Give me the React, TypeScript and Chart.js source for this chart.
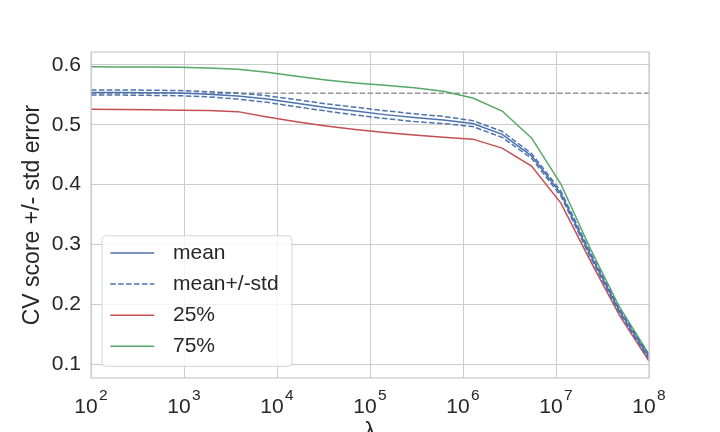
import React, { useEffect, useRef } from "react";
import { Chart, registerables } from "chart.js";

Chart.register(...registerables);

// lambda grid (log spaced)
const lambdas = [
  100, 207, 428, 886, 1833, 3793, 7848, 16238, 33598, 69519, 143845, 297635,
  615848, 1274275, 2636651, 5455595, 11288379, 23357215, 48329302, 100000000,
];

const meanScore = [
  0.554, 0.554, 0.5535, 0.553, 0.551, 0.548, 0.543, 0.536, 0.529, 0.523,
  0.517, 0.512, 0.508, 0.502, 0.484, 0.448, 0.385, 0.283, 0.188, 0.111,
];
const upperScore = [
  0.5583, 0.5583, 0.5578, 0.5573, 0.5553, 0.553, 0.5485, 0.542, 0.535, 0.5295,
  0.5235, 0.5185, 0.514, 0.507, 0.489, 0.452, 0.389, 0.287, 0.191, 0.114,
];
const lowerScore = [
  0.5497, 0.5497, 0.5492, 0.5487, 0.5467, 0.543, 0.5375, 0.53, 0.523, 0.5165,
  0.5105, 0.5055, 0.502, 0.497, 0.479, 0.444, 0.381, 0.279, 0.185, 0.108,
];
const q25Score = [
  0.526, 0.5255, 0.525, 0.5245, 0.524, 0.522, 0.513, 0.505, 0.498, 0.492,
  0.487, 0.483, 0.479, 0.476, 0.461, 0.431, 0.369, 0.273, 0.181, 0.105,
];
const q75Score = [
  0.597, 0.5968, 0.5965, 0.596, 0.595, 0.5927, 0.588, 0.581, 0.575, 0.57,
  0.566, 0.562, 0.556, 0.5448, 0.523, 0.478, 0.401, 0.293, 0.195, 0.116,
];
const threshold = 0.5527;

const xTicks = [1e2, 1e3, 1e4, 1e5, 1e6, 1e7, 1e8];
const yTicks = [0.1, 0.2, 0.3, 0.4, 0.5, 0.6];

const BLUE = "#4c72b0";
const RED = "#c44e52";
const GREEN = "#55a868";
const GRAY = "#969696";
const GRID = "#cccccc";
const TEXT = "#262626";
const FONT = "'Liberation Sans', Arial, sans-serif";
const DASH = [5.5, 2.4];

const toPoints = (ys: number[]) => lambdas.map((x, i) => ({ x, y: ys[i] }));

// x tick labels as 10 with a raised exponent
const powerTicks = {
  id: "powerTicks",
  afterDraw(chart: any) {
    const { ctx } = chart;
    const scale = chart.scales.x;
    ctx.save();
    ctx.fillStyle = TEXT;
    ctx.textBaseline = "alphabetic";
    ctx.textAlign = "left";
    scale.ticks.forEach((t: any) => {
      const px = scale.getPixelForValue(t.value);
      const exp = String(Math.round(Math.log10(t.value)));
      ctx.font = `21px ${FONT}`;
      const wBase = ctx.measureText("10").width;
      ctx.font = `15.5px ${FONT}`;
      const wExp = ctx.measureText(exp).width;
      const gap = 1.5;
      const x0 = px - (wBase + gap + wExp) / 2;
      ctx.font = `21px ${FONT}`;
      ctx.fillText("10", x0, 413);
      ctx.font = `15.5px ${FONT}`;
      ctx.fillText(exp, x0 + wBase + gap, 399.5);
    });
    ctx.restore();
  },
};

// frame + legend box inside the plot
const frameAndLegend = {
  id: "frameAndLegend",
  afterDraw(chart: any) {
    const { ctx, chartArea: ca } = chart;
    ctx.save();
    ctx.strokeStyle = GRID;
    ctx.lineWidth = 1.25;
    ctx.strokeRect(ca.left, ca.top, ca.right - ca.left, ca.bottom - ca.top);

    const items = chart.data.datasets.filter((d: any) => d.label);
    const bx = ca.left + 11;
    const bw = 190;
    const bh = 130.7;
    const by = ca.bottom - 11.6 - bh;
    ctx.beginPath();
    ctx.roundRect(bx, by, bw, bh, 4);
    ctx.fillStyle = "rgba(255,255,255,0.8)";
    ctx.fill();
    ctx.strokeStyle = "rgba(204,204,204,0.8)";
    ctx.lineWidth = 1;
    ctx.stroke();

    ctx.font = `21px ${FONT}`;
    ctx.textBaseline = "middle";
    ctx.textAlign = "left";
    items.forEach((d: any, i: number) => {
      const y = by + 17.3 + i * 31.1;
      ctx.beginPath();
      ctx.setLineDash(d.borderDash || []);
      ctx.strokeStyle = d.borderColor;
      ctx.lineWidth = 1.5;
      ctx.moveTo(bx + 8.3, y);
      ctx.lineTo(bx + 52.3, y);
      ctx.stroke();
      ctx.setLineDash([]);
      ctx.fillStyle = TEXT;
      ctx.fillText(d.label, bx + 71, y);
    });
    ctx.restore();
  },
};

export default function App() {
  const canvasRef = useRef<HTMLCanvasElement | null>(null);
  const chartRef = useRef<Chart | null>(null);

  useEffect(() => {
    document.body.style.margin = "0";
    if (!canvasRef.current) return;
    const ctx = canvasRef.current.getContext("2d");
    if (!ctx) return;
    if (chartRef.current) chartRef.current.destroy();

    const line = (label: string, ys: number[], color: string, dash: number[] = []) => ({
      label,
      data: toPoints(ys),
      borderColor: color,
      backgroundColor: color,
      borderWidth: 1.5,
      borderDash: dash,
      pointRadius: 0,
      tension: 0,
      fill: false,
    });

    chartRef.current = new Chart(ctx, {
      type: "line",
      data: {
        datasets: [
          line("mean", meanScore, BLUE),
          line("mean+/-std", upperScore, BLUE, DASH),
          line("", lowerScore, BLUE, DASH),
          line("25%", q25Score, RED),
          line("75%", q75Score, GREEN),
          {
            ...line("", [], GRAY, DASH),
            data: [
              { x: lambdas[0], y: threshold },
              { x: lambdas[lambdas.length - 1], y: threshold },
            ],
          },
        ],
      },
      options: {
        responsive: false,
        animation: false,
        layout: { padding: { left: 0, right: 71, top: 52, bottom: 0 } },
        plugins: {
          legend: { display: false },
          tooltip: { enabled: false },
        },
        scales: {
          x: {
            type: "logarithmic",
            min: 1e2,
            max: 1e8,
            afterBuildTicks: (s: any) => {
              s.ticks = xTicks.map((v) => ({ value: v }));
            },
            afterFit: (s: any) => {
              s.height = 72;
            },
            grid: { color: GRID, lineWidth: 1, drawTicks: false },
            border: { display: false },
            ticks: { display: false },
            title: {
              display: true,
              text: "λ",
              color: TEXT,
              font: { family: FONT, size: 23 },
              padding: { top: 0, bottom: 4 },
            },
          },
          y: {
            type: "linear",
            min: 0.0767,
            max: 0.6217,
            afterBuildTicks: (s: any) => {
              s.ticks = yTicks.map((v) => ({ value: v }));
            },
            afterFit: (s: any) => {
              s.width = 91;
            },
            grid: { color: GRID, lineWidth: 1, drawTicks: false },
            border: { display: false },
            ticks: {
              color: TEXT,
              padding: 10,
              font: { family: FONT, size: 21 },
              callback: (v: any) => Number(v).toFixed(1),
            },
            title: {
              display: true,
              text: "CV score +/- std error",
              color: TEXT,
              font: { family: FONT, size: 23 },
              padding: { top: 18.7, bottom: 0 },
            },
          },
        },
      },
      plugins: [powerTicks, frameAndLegend],
    });

    return () => {
      if (chartRef.current) {
        chartRef.current.destroy();
        chartRef.current = null;
      }
    };
  }, []);

  return (
    <div style={{ width: 720, height: 432, overflow: "hidden", background: "#fff" }}>
      <canvas ref={canvasRef} width={720} height={450} style={{ display: "block" }} />
    </div>
  );
}
